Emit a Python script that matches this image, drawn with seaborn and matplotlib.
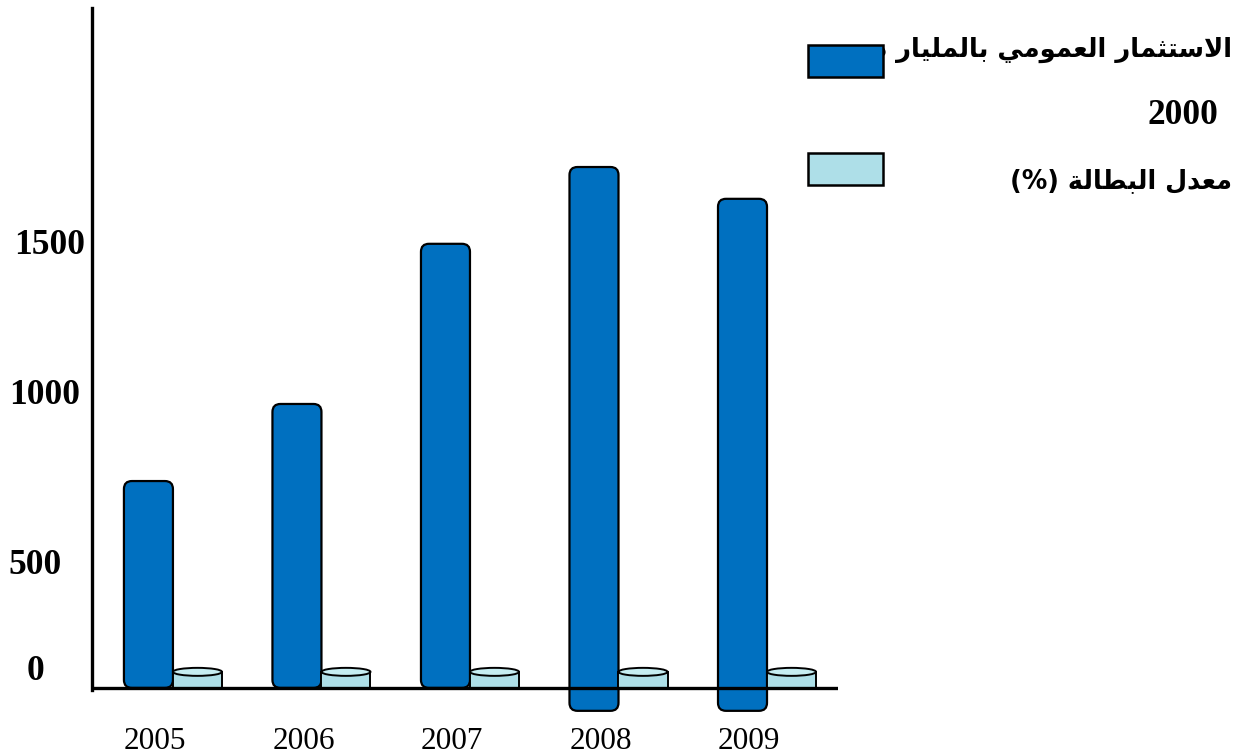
import matplotlib
matplotlib.use("Agg")
import matplotlib.pyplot as plt
from matplotlib.patches import FancyBboxPatch, Rectangle, Ellipse
import seaborn as sns
import pandas as pd

# ---- data -------------------------------------------------------------
years = ["2005", "2006", "2007", "2008", "2009"]
public_investment = [722, 991, 1550, 1818, 1707]     # billion DZD
investment_base = [0, 0, 0, -80, -80]                 # where each bar starts
unemployment = [70, 70, 70, 70, 70]
series_names = ["الاستثمار العمومي بالمليار دج", "معدل البطالة (%)"]
value_labels = ["0", "500", "1000", "1500", "2000"]

BLUE = "#0070C0"
CYAN = "#AEDFE8"
CYAN_TOP = "#C6EDF2"

# ---- minimal Arabic shaping (presentation forms + visual order) ----------
FORMS = {
    "ا": (0xFE8D, 0xFE8E, None, None),
    "ب": (0xFE8F, 0xFE90, 0xFE91, 0xFE92),
    "ة": (0xFE93, 0xFE94, None, None),
    "ت": (0xFE95, 0xFE96, 0xFE97, 0xFE98),
    "ث": (0xFE99, 0xFE9A, 0xFE9B, 0xFE9C),
    "ج": (0xFE9D, 0xFE9E, 0xFE9F, 0xFEA0),
    "د": (0xFEA9, 0xFEAA, None, None),
    "ر": (0xFEAD, 0xFEAE, None, None),
    "س": (0xFEB1, 0xFEB2, 0xFEB3, 0xFEB4),
    "ط": (0xFEC1, 0xFEC2, 0xFEC3, 0xFEC4),
    "ع": (0xFEC9, 0xFECA, 0xFECB, 0xFECC),
    "ل": (0xFEDD, 0xFEDE, 0xFEDF, 0xFEE0),
    "م": (0xFEE1, 0xFEE2, 0xFEE3, 0xFEE4),
    "و": (0xFEED, 0xFEEE, None, None),
    "ي": (0xFEF1, 0xFEF2, 0xFEF3, 0xFEF4),
    "لا": (0xFEFB, 0xFEFC, None, None),
}


def shape_word(word):
    tokens = []
    i = 0
    while i < len(word):
        if word[i] == "ل" and i + 1 < len(word) and word[i + 1] == "ا":
            tokens.append("لا")
            i += 2
        else:
            tokens.append(word[i])
            i += 1
    out = []
    for k, t in enumerate(tokens):
        f = FORMS[t]
        prev_joins = k > 0 and FORMS[tokens[k - 1]][2] is not None
        next_joins = k < len(tokens) - 1 and f[2] is not None
        if prev_joins and next_joins:
            code = f[3]
        elif prev_joins:
            code = f[1]
        elif next_joins:
            code = f[2]
        else:
            code = f[0]
        out.append(chr(code))
    return "".join(reversed(out))


def arabic(text):
    words = text.split(" ")
    vis = [shape_word(w) if any(c in FORMS for c in w) else w for w in words]
    return " ".join(reversed(vis))


# ---- figure -----------------------------------------------------------
sns.set_theme(style="white")
plt.rcParams["font.family"] = ["DejaVu Sans"]

W, H = 1238, 755
fig = plt.figure(figsize=(W / 100, H / 100), dpi=100)
fig.patch.set_facecolor("white")

ax_left, ax_right, ax_top, ax_bottom = 92, 838, 8, 720
ax = fig.add_axes([ax_left / W, 1 - ax_bottom / H,
                   (ax_right - ax_left) / W, (ax_bottom - ax_top) / H])

df = pd.DataFrame({
    "year": years * 2,
    "value": public_investment + unemployment,
    "series": [series_names[0]] * 5 + [series_names[1]] * 5,
})
sns.barplot(data=df, x="year", y="value", hue="series",
            palette=[BLUE, CYAN], width=0.66, dodge=True,
            legend=False, ax=ax, saturation=1)

ax.set_xlim(-0.545, 4.478)
ax.set_ylim(-112, 2373)

# pixel -> data conversions for shape details
px_x = (4.478 + 0.545) / (ax_right - ax_left)
px_y = (2373 + 112) / (ax_bottom - ax_top)

# rounded investment bars
inv_bars = list(ax.containers[0])
for patch, base in zip(inv_bars, investment_base):
    x, w, h = patch.get_x(), patch.get_width(), patch.get_height()
    patch.remove()
    r = 8 * px_x
    fb = FancyBboxPatch((x, base), w, h - base,
                        boxstyle=f"round,pad=0,rounding_size={r}",
                        mutation_aspect=px_y / px_x,
                        facecolor=BLUE, edgecolor="black", linewidth=1.6,
                        zorder=3)
    ax.add_patch(fb)

# cylinder-shaped unemployment bars
cap = 8 * px_y
for patch in list(ax.containers[1]):
    x, w, h = patch.get_x(), patch.get_width(), patch.get_height()
    patch.remove()
    body = Rectangle((x, 0), w, h - cap / 2, facecolor=CYAN,
                     edgecolor="black", linewidth=1.4, zorder=3)
    top = Ellipse((x + w / 2, h - cap / 2), w, cap, facecolor=CYAN_TOP,
                  edgecolor="black", linewidth=1.4, zorder=4)
    ax.add_patch(body)
    ax.add_patch(top)

# axes lines
for s in ["top", "right", "bottom"]:
    ax.spines[s].set_visible(False)
ax.spines["left"].set_linewidth(2.4)
ax.spines["left"].set_color("black")
ax.spines["left"].set_bounds(-8, 2373)
ax.axhline(0, color="black", linewidth=2.4, zorder=5)

ax.set_yticks([])
ax.set_xticks([i - 0.12 for i in range(len(years))])
ax.set_xticklabels(years, fontfamily="Liberation Serif", fontsize=22.5,
                   color="black")
ax.tick_params(axis="x", length=0, pad=5)
ax.set_xlabel("")
ax.set_ylabel("")
ax.grid(False)

# value labels along the left side (and the top one beside the legend)
label_pos = [(36, 672), (35, 565), (45, 395), (50, 245), (1183, 115)]
for txt, (px, py) in zip(value_labels, label_pos):
    fig.text(px / W, 1 - py / H, txt, ha="center", va="center",
             fontfamily="Liberation Serif", fontweight="bold",
             fontsize=25.5, color="black")

# legend
fig.patches.append(Rectangle((808 / W, 1 - 77 / H), 75 / W, 32 / H,
                             transform=fig.transFigure, facecolor=BLUE,
                             edgecolor="black", linewidth=1.8, zorder=5))
fig.patches.append(Rectangle((808 / W, 1 - 185 / H), 75 / W, 32 / H,
                             transform=fig.transFigure, facecolor=CYAN,
                             edgecolor="black", linewidth=1.8, zorder=5))
fig.text(1232 / W, 1 - 51 / H, arabic(series_names[0]), ha="right",
         va="center", fontweight="bold", fontsize=18.6, color="black",
         zorder=1)
fig.text(1232 / W, 1 - 181 / H, arabic(series_names[1]), ha="right",
         va="center", fontweight="bold", fontsize=18.4, color="black")

fig.savefig("out.png", dpi=100, facecolor="white")
